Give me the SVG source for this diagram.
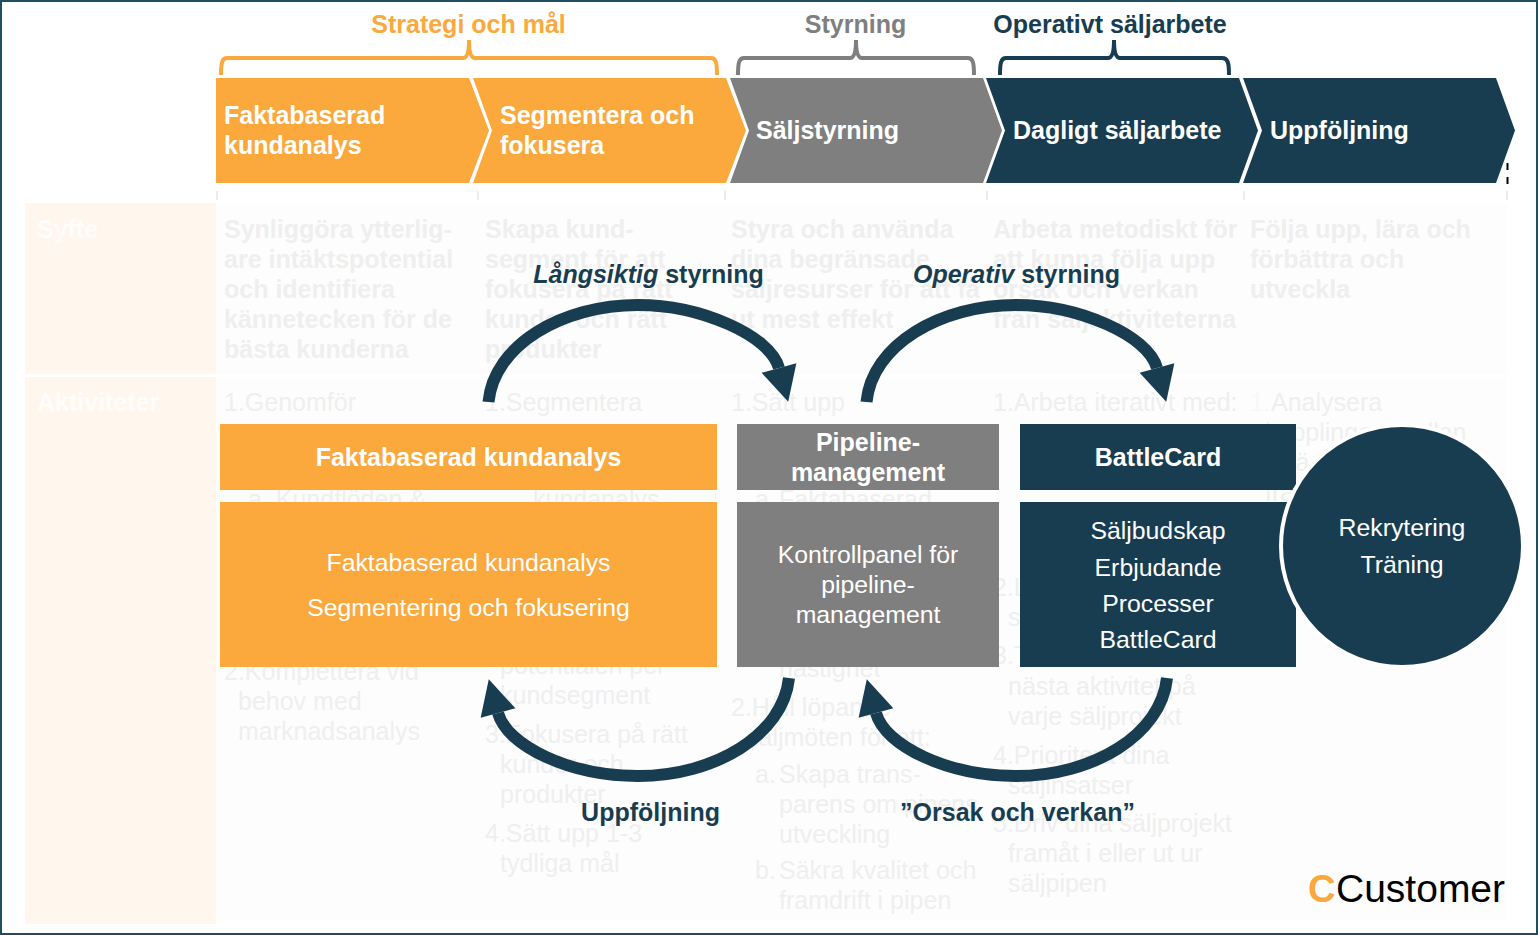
<svg xmlns="http://www.w3.org/2000/svg" width="1538" height="935" viewBox="0 0 1538 935">
<style>
text{font-family:"Liberation Sans",Arial,sans-serif}
.h{font-size:25px;font-weight:700;fill:#fff}
.hc{font-size:25px;font-weight:700;fill:#fff;text-anchor:middle}
.b{font-size:24.800px;fill:#fff;text-anchor:middle}
.fb{font-size:25px;font-weight:700;fill:#efefef}
.fr{font-size:25px;fill:#efefef}
.lab{font-size:25px;font-weight:700;fill:#183d51;text-anchor:middle}
.cell{fill:#fff6ed}
.col{fill:#fdfdfd}
.or{fill:#fba83d}.gr{fill:#7f7f7f}.na{fill:#183d51}
.br{fill:none;stroke-width:4}
.arc{fill:none;stroke:#183d51;stroke-width:12;marker-end:url(#head)}
.tick{stroke:#ececec;stroke-width:2}
</style>
<defs>
<marker id="head" markerUnits="userSpaceOnUse" markerWidth="40" markerHeight="40" refX="2" refY="20" orient="auto" viewBox="0 0 40 40">
<polygon points="2,2 37,20 2,38" fill="#183d51"/>
</marker>
</defs>
<rect x="0" y="0" width="1538" height="935" fill="#fff"/>
<g id="background">
<rect class="cell" x="25" y="203" width="191" height="171"/>
<rect class="cell" x="25" y="377" width="191" height="547"/>
<rect class="col" x="216" y="203" width="1291" height="171"/>
<rect class="col" x="216" y="377" width="1291" height="543"/>
<text x="37" y="238" class="fb" style="fill:#fffdfb">Syfte</text>
<text x="37" y="411" class="fb" style="fill:#fffdfb">Aktiviteter</text>
<path class="tick" d="M217 191V200M478 191V200M725 191V200M987 191V200M1244 191V200M1507 191V200"/>
</g>
<g id="faded-purpose">
<text class="fb" x="224" y="238">Synliggöra ytterlig-</text>
<text class="fb" x="224" y="268">are intäktspotential</text>
<text class="fb" x="224" y="298">och identifiera</text>
<text class="fb" x="224" y="328">kännetecken för de</text>
<text class="fb" x="224" y="358">bästa kunderna</text>
<text class="fb" x="485" y="238">Skapa kund-</text>
<text class="fb" x="485" y="268">segment för att</text>
<text class="fb" x="485" y="298">fokusera på rätt</text>
<text class="fb" x="485" y="328">kunder och rätt</text>
<text class="fb" x="485" y="358">produkter</text>
<text class="fb" x="731" y="238">Styra och använda</text>
<text class="fb" x="731" y="268">dina begränsade</text>
<text class="fb" x="731" y="298">säljresurser för att få</text>
<text class="fb" x="731" y="328">ut mest effekt</text>
<text class="fb" x="993" y="238">Arbeta metodiskt för</text>
<text class="fb" x="993" y="268">att kunna följa upp</text>
<text class="fb" x="993" y="298">orsak och verkan</text>
<text class="fb" x="993" y="328">från säljaktiviteterna</text>
<text class="fb" x="1250" y="238">Följa upp, lära och</text>
<text class="fb" x="1250" y="268">förbättra och</text>
<text class="fb" x="1250" y="298">utveckla</text>
</g>
<g id="faded-activities">
<text class="fr" x="224" y="411">1.Genomför</text>
<text class="fr" x="248" y="508">a. Kundflöden &amp;</text>
<text class="fr" x="224" y="680">2.Komplettera vid</text>
<text class="fr" x="238" y="710">behov med</text>
<text class="fr" x="238" y="740">marknadsanalys</text>
<text class="fr" x="485" y="411">1.Segmentera</text>
<text class="fr" x="533" y="508">kundanalys</text>
<text class="fr" x="500" y="674">potentialen per</text>
<text class="fr" x="500" y="704">kundsegment</text>
<text class="fr" x="485" y="743">3.Fokusera på rätt</text>
<text class="fr" x="500" y="773">kunder och</text>
<text class="fr" x="500" y="803">produkter</text>
<text class="fr" x="485" y="842">4.Sätt upp 1-3</text>
<text class="fr" x="500" y="872">tydliga mål</text>
<text class="fr" x="731" y="411">1.Sätt upp</text>
<text class="fr" x="755" y="508">a.</text>
<text class="fr" x="779" y="508">Faktabaserad</text>
<text class="fr" x="779" y="677">hastighet</text>
<text class="fr" x="731" y="716">2.Håll löpande</text>
<text class="fr" x="746" y="746">säljmöten för att:</text>
<text class="fr" x="755" y="783">a.</text>
<text class="fr" x="779" y="783">Skapa trans-</text>
<text class="fr" x="779" y="813">parens om pipens</text>
<text class="fr" x="779" y="843">utveckling</text>
<text class="fr" x="755" y="879">b.</text>
<text class="fr" x="779" y="879">Säkra kvalitet och</text>
<text class="fr" x="779" y="909">framdrift i pipen</text>
<text class="fr" x="993" y="411">1.Arbeta iterativt med:</text>
<text class="fr" x="993" y="596">2.L</text>
<text class="fr" x="1008" y="626">s</text>
<text class="fr" x="993" y="664">3.T</text>
<text class="fr" x="1008" y="695">nästa aktivitet på</text>
<text class="fr" x="1008" y="725">varje säljprojekt</text>
<text class="fr" x="993" y="764">4.Prioritera dina</text>
<text class="fr" x="1008" y="794">säljinsatser</text>
<text class="fr" x="993" y="832">5.Driv dina säljprojekt</text>
<text class="fr" x="1008" y="862">framåt i eller ut ur</text>
<text class="fr" x="1008" y="892">säljpipen</text>
<text class="fr" x="1250" y="411" style="fill:#f8f8f8">1.</text>
<text class="fr" x="1271" y="411">Analysera</text>
<text class="fr" x="1265" y="441">kopplingen mellan</text>
<text class="fr" x="1283" y="471">sä</text>
<text class="fr" x="1265" y="501">fra</text>
</g>
<g id="brackets">
<text x="468.500" y="33" class="lab" style="fill:#fba83d">Strategi och mål</text>
<path class="br" stroke="#fba83d" d="M221 75C221 63 222 58 227 58H463C467 58 469 52 469 40C469 52 471 58 475 58H711C716 58 717 63 717 75"/>
<text x="855.500" y="33" class="lab" style="fill:#7f7f7f">Styrning</text>
<path class="br" stroke="#7f7f7f" d="M738 75C738 63 739 58 744 58H850C854 58 856 52 856 40C856 52 858 58 862 58H968C973 58 974 63 974 75"/>
<text x="1110" y="33" class="lab">Operativt säljarbete</text>
<path class="br" stroke="#183d51" d="M1000 75C1000 63 1001 58 1006 58H1108C1112 58 1114 52 1114 40C1114 52 1116 58 1120 58H1222C1228 58 1229 63 1229 75"/>
</g>
<g id="step-faktabaserad-kundanalys">
<polygon class="or" points="216,78 469,78 489,130.500 469,183 216,183"/>
<text class="h" x="224" y="124">Faktabaserad</text>
<text class="h" x="224" y="154">kundanalys</text>
</g>
<g id="step-segmentera">
<polygon class="or" points="473,78 726,78 746,130.500 726,183 473,183 492,130.500"/>
<text class="h" x="500" y="124">Segmentera och</text>
<text class="h" x="500" y="154">fokusera</text>
</g>
<g id="step-saljstyrning">
<polygon class="gr" points="730,78 983,78 1002,130.500 983,183 730,183 749,130.500"/>
<text class="h" x="756" y="139">Säljstyrning</text>
</g>
<g id="step-dagligt-saljarbete">
<polygon class="na" points="986,78 1239,78 1258,130.500 1239,183 986,183 1005,130.500"/>
<text class="h" x="1013" y="139">Dagligt säljarbete</text>
</g>
<g id="step-uppfoljning">
<polygon class="na" points="1243,78 1496,78 1515,130.500 1496,183 1243,183 1262,130.500"/>
<text class="h" x="1270" y="139">Uppföljning</text>
<path d="M1507.500 163V170M1507.500 177V184" stroke="#000" stroke-width="2"/>
</g>
<g id="connectors">
<path class="arc" d="M488.500 402C494 345 562 305 638 305C700 305 770 335 779 368"/>
<path class="arc" d="M866.500 402C872 345 940 305 1016 305C1078 305 1148 335 1157 368"/>
<path class="arc" d="M789 678C783 735 715 776 638 776C570 776 507 746 498 713"/>
<path class="arc" d="M1167 678C1161 735 1093 776 1016 776C948 776 885 746 876 713"/>
</g>
<g id="label-langsiktig">
<text class="lab" x="648.500" y="283"><tspan font-style="italic">Långsiktig</tspan> styrning</text>
</g>
<g id="label-operativ">
<text class="lab" x="1016.500" y="283"><tspan font-style="italic">Operativ</tspan> styrning</text>
</g>
<g id="label-uppfoljning">
<text class="lab" x="650.500" y="821">Uppföljning</text>
</g>
<g id="label-orsak">
<text class="lab" x="1017.500" y="821">”Orsak och verkan”</text>
</g>
<g id="node-faktabaserad-header">
<rect class="or" x="220" y="424" width="497" height="66"/>
<text class="hc" x="468.500" y="466">Faktabaserad kundanalys</text>
</g>
<g id="node-faktabaserad-body">
<rect class="or" x="220" y="502" width="497" height="165"/>
<text class="b" x="468.500" y="571">Faktabaserad kundanalys</text>
<text class="b" x="468.500" y="616">Segmentering och fokusering</text>
</g>
<g id="node-pipeline-header">
<rect class="gr" x="737" y="424" width="262" height="66"/>
<text class="hc" x="868" y="451">Pipeline-</text>
<text class="hc" x="868" y="481">management</text>
</g>
<g id="node-pipeline-body">
<rect class="gr" x="737" y="502" width="262" height="165"/>
<text class="b" x="868" y="563">Kontrollpanel för</text>
<text class="b" x="868" y="593">pipeline-</text>
<text class="b" x="868" y="623">management</text>
</g>
<g id="node-battlecard-header">
<rect class="na" x="1020" y="424" width="276" height="66"/>
<text class="hc" x="1158" y="466">BattleCard</text>
</g>
<g id="node-battlecard-body">
<rect class="na" x="1020" y="502" width="276" height="165"/>
<text class="b" x="1158" y="539">Säljbudskap</text>
<text class="b" x="1158" y="576">Erbjudande</text>
<text class="b" x="1158" y="612">Processer</text>
<text class="b" x="1158" y="648">BattleCard</text>
</g>
<g id="node-rekrytering">
<circle class="na" cx="1402" cy="546" r="121" stroke="#fff" stroke-width="4"/>
<text class="b" x="1402" y="536">Rekrytering</text>
<text class="b" x="1402" y="573">Träning</text>
</g>
<g id="logo">
<text x="1308" y="902" font-size="38" font-weight="700" fill="#fba83d">C</text>
<text x="1336" y="902" font-size="39" fill="#000">Customer</text>
</g>
<rect x="1" y="1" width="1536" height="933" fill="none" stroke="#1f4e5f" stroke-width="2"/>
</svg>
